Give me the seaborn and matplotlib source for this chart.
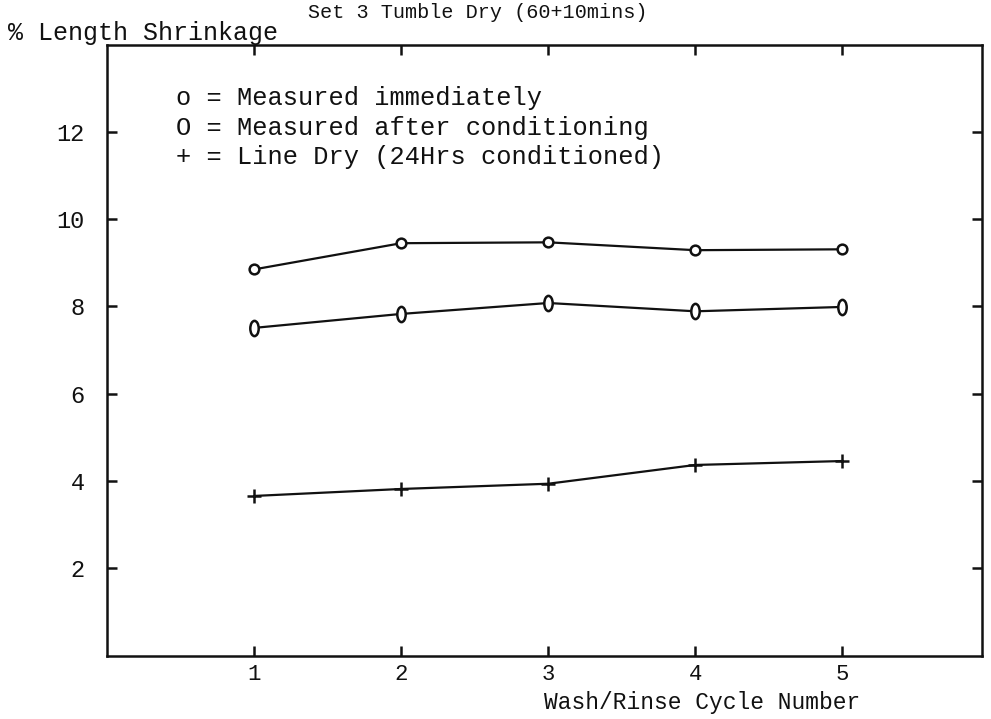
import numpy as np
import pandas as pd
import matplotlib
matplotlib.use("Agg")
import matplotlib.pyplot as plt
from matplotlib.path import Path
from matplotlib.transforms import Affine2D
import seaborn as sns

cycles = [1, 2, 3, 4, 5]
measured_immediately = [8.85, 9.45, 9.47, 9.29, 9.31]
measured_conditioned = [7.51, 7.83, 8.08, 7.89, 7.99]
line_dry = [3.66, 3.82, 3.94, 4.37, 4.46]

x_ticks = [1, 2, 3, 4, 5]
y_ticks = [2, 4, 6, 8, 10, 12]

title = "Set 3 Tumble Dry (60+10mins)"
ylabel = "% Length Shrinkage"
xlabel = "Wash/Rinse Cycle Number"
legend_lines = [
    "o = Measured immediately",
    "O = Measured after conditioning",
    "+ = Line Dry (24Hrs conditioned)",
]

sns.set_style("ticks")
plt.rcParams["font.family"] = ["Liberation Mono", "DejaVu Sans Mono"]

fig = plt.figure(figsize=(9.91, 7.19), dpi=100)
ax = fig.add_axes([0.108, 0.088, 0.883, 0.850])

ink = "#111111"
ellipse = Path.unit_circle().transformed(Affine2D().scale(0.55, 1.0))

sns.lineplot(x=cycles, y=measured_immediately, ax=ax, color=ink, lw=1.6,
             marker="o", markersize=7, markerfacecolor="white",
             markeredgecolor=ink, markeredgewidth=1.8)
sns.lineplot(x=cycles, y=measured_conditioned, ax=ax, color=ink, lw=1.6,
             marker=ellipse, markersize=11, markerfacecolor="white",
             markeredgecolor=ink, markeredgewidth=1.8)
sns.lineplot(x=cycles, y=line_dry, ax=ax, color=ink, lw=1.6,
             marker="+", markersize=10, markeredgecolor=ink,
             markeredgewidth=1.8)

ax.set_xlim(0.0, 5.95)
ax.set_ylim(0, 14)
ax.set_xticks(x_ticks)
ax.set_yticks(y_ticks)
ax.set_xticklabels([str(v) for v in x_ticks], fontsize=16)
ax.set_yticklabels([str(v) for v in y_ticks], fontsize=17)
ax.tick_params(axis="both", which="both", direction="in", length=7,
               width=1.8, bottom=True, left=True, top=True, right=True,
               colors=ink)
ax.tick_params(axis="y", pad=16)
ax.tick_params(axis="x", pad=6)
for s in ax.spines.values():
    s.set_visible(True)
    s.set_linewidth(1.8)
    s.set_color(ink)
ax.set_xlabel("")
ax.set_ylabel("")

fig.text(478 / 991, 1 - 13 / 719, title, ha="center", va="center",
         fontsize=14.5, color=ink)
fig.text(8 / 991, 1 - 33 / 719, ylabel, ha="left", va="center",
         fontsize=18, color=ink)
fig.text(702 / 991, 1 - 703 / 719, xlabel, ha="center", va="center",
         fontsize=16.5, color=ink)
for i, line in enumerate(legend_lines):
    fig.text(176 / 991, 1 - (98 + 29.5 * i) / 719, line, ha="left",
             va="center", fontsize=18.3, color=ink)

fig.savefig("out.png", dpi=100, facecolor="white")
